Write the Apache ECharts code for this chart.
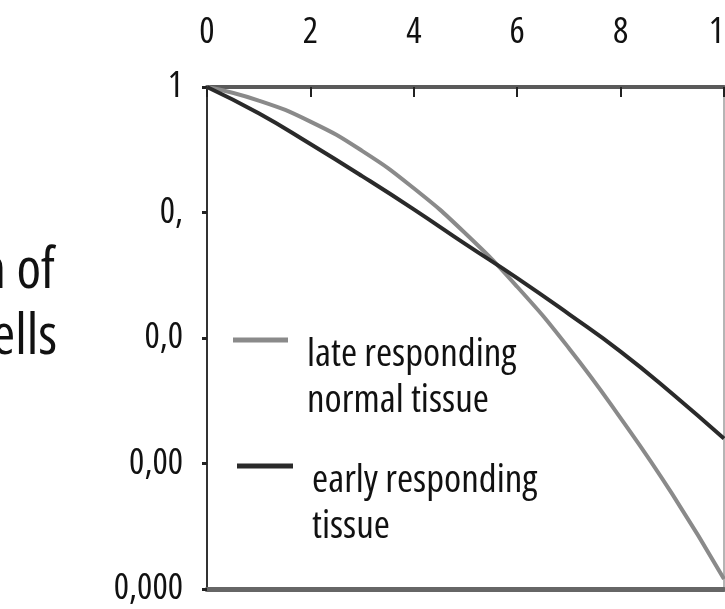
<!DOCTYPE html>
<html>
<head>
<meta charset="utf-8">
<script src="https://cdn.jsdelivr.net/npm/echarts@6/dist/echarts.min.js"></script>
<style>
html,body{margin:0;padding:0;background:#fff;}
#chart{width:725px;height:609px;}
</style>
</head>
<body>
<div id="chart"></div>
<script>
// Dose (Gy)
const doses = [0, 1, 2, 3, 4, 5, 6, 7, 8, 9, 10];
// Surviving fraction
const lateValues  = [1, 0.78, 0.53, 0.31, 0.156, 0.068, 0.0256, 0.0083, 0.0023, 0.00057, 0.00012];
const earlyValues = [1, 0.617, 0.351, 0.195, 0.106, 0.056, 0.030, 0.0155, 0.0078, 0.0036, 0.00158];
const seriesNames = ['late responding\nnormal tissue', 'early responding\ntissue'];
// Tick labels as shown (truncated in the source)
const yTickValues = [0.0001, 0.001, 0.01, 0.1, 1];
const yTickLabels = ['0,000', '0,00', '0,0', '0,', '1'];
const titleLines = ['Fraction of', 'surviving cells'];

const FAMILY = '"Open Sans", "Roboto Condensed", sans-serif';

const chart = echarts.init(document.getElementById('chart'));

function ylabel(v) {
  for (let i = 0; i < yTickValues.length; i++) {
    if (Math.abs(Math.log10(v) - Math.log10(yTickValues[i])) < 1e-6) return yTickLabels[i];
  }
  return '';
}

const legendText = {
  padding: [0, 0, 0, 14],
  rich: {
    pad: { fontSize: 2, lineHeight: 76, height: 76 },
    t: { fontFamily: FAMILY, fontStyle: 'condensed', fontSize: 39, lineHeight: 46, color: '#111' }
  }
};
function legendFormatter(name) {
  return '{pad| }\n' + name.split('\n').map(s => '{t|' + s + '}').join('\n');
}

chart.setOption({
  animation: false,
  backgroundColor: '#fff',
  grid: { left: 207, top: 87, right: 1, bottom: 20, containLabel: false, outerBoundsMode: 'none' },
  xAxis: [{
    type: 'value', position: 'top', min: 0, max: 10, interval: 2,
    axisLine: { show: true, onZero: false, lineStyle: { color: '#5a5a5a', width: 4 } },
    axisTick: { show: true, inside: true, length: 10, lineStyle: { color: '#222', width: 2 } },
    axisLabel: { show: true, margin: 36, fontFamily: FAMILY, fontStyle: 'condensed', fontSize: 36, color: '#111' },
    splitLine: { show: false }
  }, {
    type: 'value', position: 'bottom', min: 0, max: 10,
    axisLine: { show: true, onZero: false, lineStyle: { color: '#666', width: 5 } },
    axisTick: { show: false }, axisLabel: { show: false }, splitLine: { show: false }
  }],
  yAxis: [{
    type: 'log', logBase: 10, min: 0.0001, max: 1, position: 'left',
    axisLine: { show: true, onZero: false, lineStyle: { color: '#333', width: 2 } },
    axisTick: { show: true, length: 5, lineStyle: { color: '#222', width: 3 } },
    axisLabel: { show: true, margin: 24, fontFamily: FAMILY, fontStyle: 'condensed', fontSize: 36, color: '#111',
      formatter: ylabel },
    splitLine: { show: false }, minorTick: { show: false }
  }, {
    type: 'log', logBase: 10, min: 0.0001, max: 1, position: 'right',
    axisLine: { show: true, onZero: false, lineStyle: { color: '#b5b5b5', width: 3 } },
    axisTick: { show: false }, axisLabel: { show: false }, splitLine: { show: false }
  }],
  legend: [{
    data: [seriesNames[0]], orient: 'vertical', left: 233, top: 256, padding: 0,
    icon: 'rect', itemWidth: 55, itemHeight: 5, textStyle: legendText, formatter: legendFormatter
  }, {
    data: [seriesNames[1]], orient: 'vertical', left: 237, top: 382, padding: 0,
    icon: 'rect', itemWidth: 56, itemHeight: 5, textStyle: legendText, formatter: legendFormatter
  }],
  graphic: [
    { type: 'text', x: 55, y: 272, style: { text: titleLines[0], align: 'right', verticalAlign: 'middle', font: 'condensed 56px ' + FAMILY, fill: '#111' } },
    { type: 'text', x: 57, y: 338, style: { text: titleLines[1], align: 'right', verticalAlign: 'middle', font: 'condensed 56px ' + FAMILY, fill: '#111' } }
  ],
  series: [{
    name: seriesNames[0], type: 'line', smooth: true, showSymbol: false, symbol: 'none',
    color: '#8a8a8a', lineStyle: { color: '#8a8a8a', width: 4 },
    data: doses.map((d, i) => [d, lateValues[i]])
  }, {
    name: seriesNames[1], type: 'line', smooth: true, showSymbol: false, symbol: 'none',
    color: '#2a2a2a', lineStyle: { color: '#2a2a2a', width: 4 },
    data: doses.map((d, i) => [d, earlyValues[i]])
  }]
});
</script>
</body>
</html>
